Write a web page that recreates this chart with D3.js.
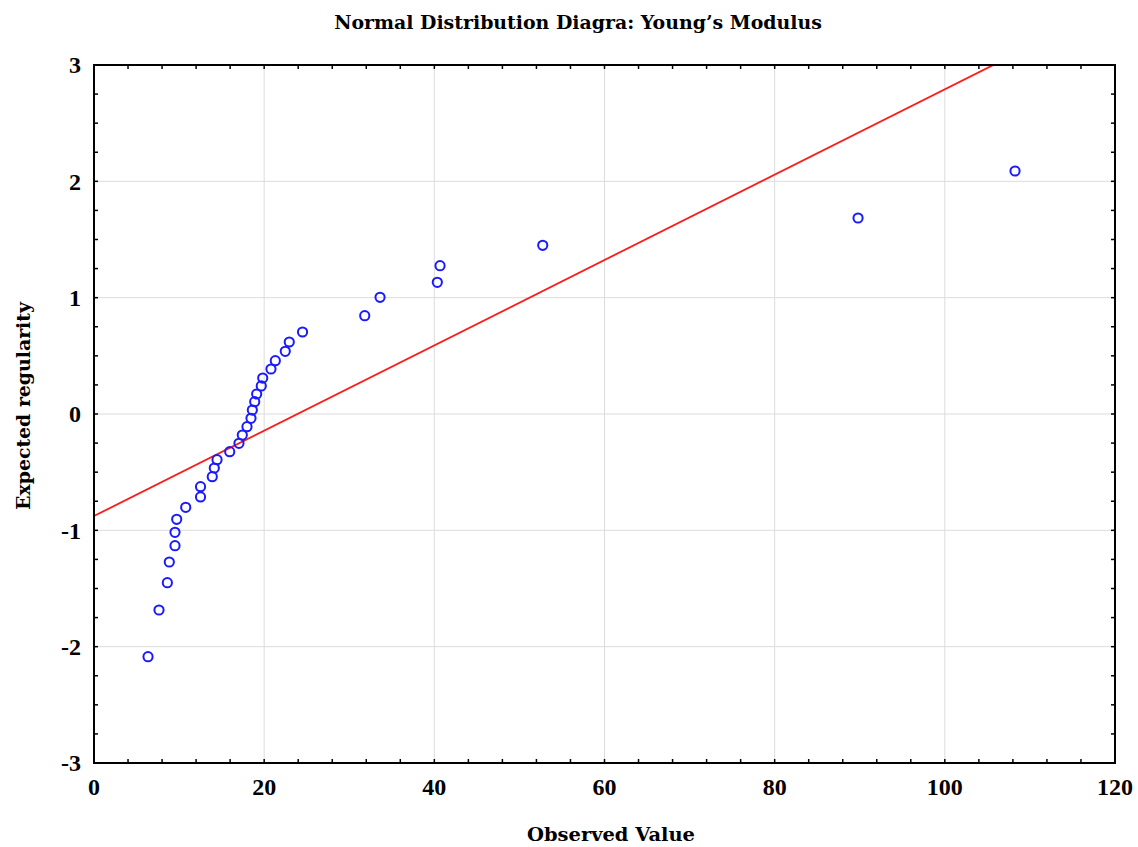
<!DOCTYPE html>
<html><head><meta charset="utf-8">
<script src="https://cdn.jsdelivr.net/npm/d3@7"></script>
<style>body{margin:0;background:#fff;} svg{display:block;}</style>
</head><body>
<script>
const observed = [6.35,7.64,8.62,8.85,9.52,9.52,9.72,10.78,12.52,12.52,13.90,14.14,14.46,15.95,17.04,17.43,17.98,18.45,18.61,18.89,19.12,19.66,19.83,20.80,21.31,22.48,22.95,24.51,31.82,33.62,40.35,40.67,52.74,89.80,108.25];
const expected = [-2.086,-1.685,-1.450,-1.272,-1.132,-1.017,-0.905,-0.802,-0.713,-0.625,-0.539,-0.464,-0.393,-0.324,-0.252,-0.181,-0.109,-0.037,0.034,0.106,0.172,0.241,0.309,0.387,0.458,0.539,0.619,0.705,0.845,1.003,1.132,1.275,1.450,1.685,2.089];
const lineIntercept = -0.877;
const lineSlope = 0.03668;
const xTicks = [0,20,40,60,80,100,120];
const yTicks = [-3,-2,-1,0,1,2,3];
const titleText = "Normal Distribution Diagra: Young’s Modulus";
const xLabel = "Observed Value";
const yLabel = "Expected regularity";

const W = 1138, H = 847;
const m = {l:94, r:1115, t:65, b:763};
const font = "'Liberation Serif', 'DejaVu Serif', serif";
const labelFont = "'DejaVu Serif', 'Liberation Serif', serif";
const svg = d3.select("body").append("svg").attr("width", W).attr("height", H);
const x = d3.scaleLinear().domain([0,120]).range([m.l, m.r]);
const y = d3.scaleLinear().domain([-3,3]).range([m.b, m.t]);

// gridlines
svg.append("g").selectAll("line").data(xTicks.slice(1,-1)).join("line")
  .attr("x1", d=>x(d)).attr("x2", d=>x(d)).attr("y1", m.t).attr("y2", m.b)
  .attr("stroke", "#dcdcdc").attr("stroke-width", 1);
svg.append("g").selectAll("line").data(yTicks.slice(1,-1)).join("line")
  .attr("y1", d=>y(d)).attr("y2", d=>y(d)).attr("x1", m.l).attr("x2", m.r)
  .attr("stroke", "#dcdcdc").attr("stroke-width", 1);

// clip
svg.append("clipPath").attr("id","clip").append("rect")
  .attr("x", m.l).attr("y", m.t).attr("width", m.r-m.l).attr("height", m.b-m.t);

// fitted line
svg.append("line").attr("clip-path","url(#clip)")
  .attr("x1", x(0)).attr("y1", y(lineIntercept))
  .attr("x2", x(120)).attr("y2", y(lineIntercept + lineSlope*120))
  .attr("stroke", "#ff1a1a").attr("stroke-width", 1.8);

// points
const pts = observed.map((v,i)=>({x:v, y:expected[i]}));
svg.append("g").selectAll("circle").data(pts).join("circle")
  .attr("cx", d=>x(d.x)).attr("cy", d=>y(d.y)).attr("r", 4.6)
  .attr("fill", "none").attr("stroke", "#1a1aff").attr("stroke-width", 2);

// inward ticks (minor)
const xMinor = d3.range(0, 120.001, 4);
const yMinor = d3.range(-3, 3.001, 0.25);
const tl = 4;
const tk = svg.append("g").attr("stroke", "#000").attr("stroke-width", 1.5);
tk.selectAll(".xb").data(xMinor).join("line").attr("class","xb")
  .attr("x1", d=>x(d)).attr("x2", d=>x(d)).attr("y1", m.b).attr("y2", m.b - tl);
tk.selectAll(".xt").data(xMinor).join("line").attr("class","xt")
  .attr("x1", d=>x(d)).attr("x2", d=>x(d)).attr("y1", m.t).attr("y2", m.t + tl);
tk.selectAll(".yl").data(yMinor).join("line").attr("class","yl")
  .attr("y1", d=>y(d)).attr("y2", d=>y(d)).attr("x1", m.l).attr("x2", m.l + tl);
tk.selectAll(".yr").data(yMinor).join("line").attr("class","yr")
  .attr("y1", d=>y(d)).attr("y2", d=>y(d)).attr("x1", m.r).attr("x2", m.r - tl);

// frame
svg.append("rect").attr("x", m.l).attr("y", m.t).attr("width", m.r-m.l).attr("height", m.b-m.t)
  .attr("fill","none").attr("stroke","#000").attr("stroke-width", 2);

// tick labels
svg.append("g").selectAll("text").data(xTicks).join("text")
  .attr("x", d=>x(d)).attr("y", m.b + 32).attr("text-anchor","middle")
  .attr("font-family", font).attr("font-weight","bold").attr("font-size", 24)
  .text(d=>d);
svg.append("g").selectAll("text").data(yTicks).join("text")
  .attr("x", m.l - 13).attr("y", d=>y(d)).attr("dy","0.35em").attr("text-anchor","end")
  .attr("font-family", font).attr("font-weight","bold").attr("font-size", 24)
  .text(d=>d);

// fit a text element to a target width by choosing the font size
function fitText(sel, target) {
  const base = 20;
  sel.attr("font-size", base);
  const w = sel.node().getComputedTextLength();
  sel.attr("font-size", base * target / w);
}

// title & axis labels
const t = svg.append("text").attr("x", 578).attr("y", 29).attr("text-anchor","middle")
  .attr("font-family", labelFont).attr("font-weight","bold").text(titleText);
fitText(t, 488);
const xl = svg.append("text").attr("x", 611).attr("y", 841).attr("text-anchor","middle")
  .attr("font-family", labelFont).attr("font-weight","bold").text(xLabel);
fitText(xl, 168);
const yl = svg.append("text").attr("transform","translate(30,406) rotate(-90)").attr("text-anchor","middle")
  .attr("font-family", labelFont).attr("font-weight","bold").text(yLabel);
fitText(yl, 208);
</script>
</body></html>
